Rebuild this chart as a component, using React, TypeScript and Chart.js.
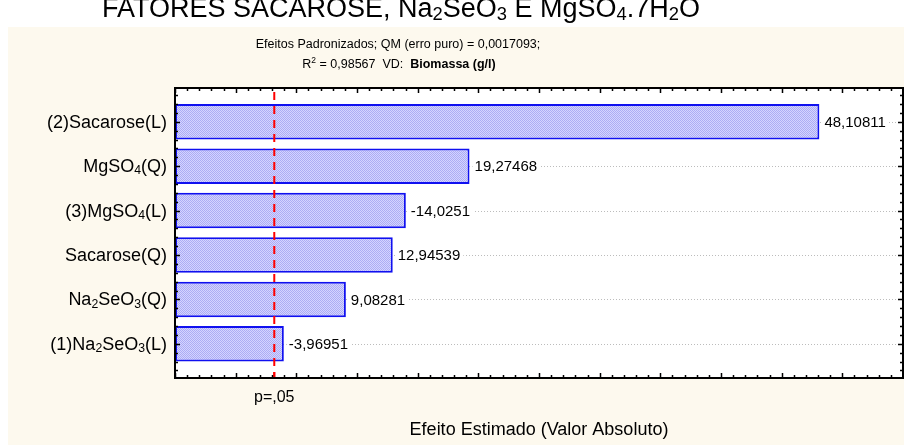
import React, { useEffect, useRef } from "react";
import { Chart, registerables } from "chart.js";

Chart.register(...registerables);

const FONT = "'Liberation Sans', Arial, Helvetica, sans-serif";

// ---- data ----
const categories = ["(2)Sacarose(L)", "MgSO₄(Q)", "(3)MgSO₄(L)", "Sacarose(Q)", "Na₂SeO₃(Q)", "(1)Na₂SeO₃(L)"];
const effects = [48.10811, 19.27468, -14.0251, 12.94539, 9.08281, -3.96951];
const effectLabels = effects.map((v) => String(v).replace(".", ","));
const pCritical = 3.182;
const pLabel = "p=,05";
const xMin = -5;
const xMax = 55;
const xMajorStep = 5;
const xMinorStep = 1;
const yMinorStep = 0.2;

const titleText = "FATORES SACAROSE, Na₂SeO₃ E MgSO₄.7H₂O";
const subtitle1 = "Efeitos Padronizados; QM (erro puro) = 0,0017093;";
const subtitle2 = "R² = 0,98567  VD:  ";
const subtitle2Bold = "Biomassa (g/l)";
const xTitle = "Efeito Estimado (Valor Absoluto)";

// ---- rich text helpers ----
const SUB = "₀₁₂₃₄₅₆₇₈₉";
const SUP = "⁰¹²³⁴⁵⁶⁷⁸⁹";
type Part = { text: string; size: number; weight: string; dy: number };

function splitRich(text: string, size: number, weight = "normal"): Part[] {
  const parts: Part[] = [];
  for (const ch of Array.from(text)) {
    const si = SUB.indexOf(ch);
    const pi = SUP.indexOf(ch);
    let p: Part;
    if (si >= 0) p = { text: String(si), size: size * 0.68, weight, dy: size * 0.12 };
    else if (pi >= 0) p = { text: String(pi), size: size * 0.68, weight, dy: -size * 0.4 };
    else p = { text: ch, size, weight, dy: 0 };
    const last = parts[parts.length - 1];
    if (last && last.size === p.size && last.dy === p.dy && last.weight === p.weight) last.text += p.text;
    else parts.push(p);
  }
  return parts;
}

function partsWidth(ctx: CanvasRenderingContext2D, parts: Part[]) {
  let w = 0;
  for (const p of parts) {
    ctx.font = `${p.weight} ${p.size}px ${FONT}`;
    w += ctx.measureText(p.text).width;
  }
  return w;
}

function drawParts(ctx: CanvasRenderingContext2D, parts: Part[], x: number, y: number, align: "left" | "center" | "right") {
  const w = partsWidth(ctx, parts);
  let cx = align === "left" ? x : align === "center" ? x - w / 2 : x - w;
  ctx.textBaseline = "alphabetic";
  ctx.textAlign = "left";
  for (const p of parts) {
    ctx.font = `${p.weight} ${p.size}px ${FONT}`;
    ctx.fillText(p.text, cx, y + p.dy);
    cx += ctx.measureText(p.text).width;
  }
  return w;
}

function makePattern(): CanvasPattern | string {
  const c = document.createElement("canvas");
  c.width = 2;
  c.height = 2;
  const g = c.getContext("2d");
  if (!g) return "#c4c4f8";
  g.fillStyle = "#d4d4ff";
  g.fillRect(0, 0, 2, 2);
  g.fillStyle = "#acacf4";
  g.fillRect(0, 0, 1, 1);
  g.fillRect(1, 1, 1, 1);
  const p = g.createPattern(c, "repeat");
  return p || "#c4c4f8";
}

const decor = {
  id: "decor",
  beforeDraw(chart: any) {
    const { ctx, width, height, chartArea: a } = chart;
    ctx.save();
    ctx.fillStyle = "#ffffff";
    ctx.fillRect(0, 0, width, height);
    ctx.fillStyle = "#fdf9ee";
    ctx.fillRect(8, 27, width - 8, height - 27);
    ctx.fillStyle = "#ffffff";
    ctx.fillRect(a.left, a.top, a.right - a.left, a.bottom - a.top);

    ctx.fillStyle = "#000";
    drawParts(ctx, splitRich(titleText, 27), 401, 17, "center");
    drawParts(ctx, splitRich(subtitle1, 12.5), 398, 48, "center");
    const p2 = splitRich(subtitle2, 12.5);
    const p2b = splitRich(subtitle2Bold, 12.5, "bold");
    const w = partsWidth(ctx, p2) + partsWidth(ctx, p2b);
    const x0 = 399 - w / 2;
    const w1 = drawParts(ctx, p2, x0, 68, "left");
    drawParts(ctx, p2b, x0 + w1, 68, "left");
    ctx.restore();
  },
  beforeDatasetsDraw(chart: any) {
    const { ctx, chartArea: a, scales } = chart;
    const y = scales.y;
    ctx.save();
    ctx.strokeStyle = "#bcbcbc";
    ctx.lineWidth = 1;
    ctx.setLineDash([1, 2]);
    categories.forEach((_, i) => {
      const py = Math.round(y.getPixelForValue(i)) + 0.5;
      ctx.beginPath();
      ctx.moveTo(a.left, py);
      ctx.lineTo(a.right, py);
      ctx.stroke();
    });
    ctx.restore();
  },
  afterDatasetsDraw(chart: any) {
    const { ctx, chartArea: a, scales } = chart;
    const x = scales.x;
    const y = scales.y;
    ctx.save();
    // value labels
    ctx.font = `15px ${FONT}`;
    ctx.textBaseline = "middle";
    ctx.textAlign = "left";
    effects.forEach((v, i) => {
      const px = x.getPixelForValue(Math.abs(v)) + 5;
      const py = y.getPixelForValue(i);
      const tw = ctx.measureText(effectLabels[i]).width;
      ctx.fillStyle = "#ffffff";
      ctx.fillRect(px - 2, py - 8, tw + 5, 16);
      ctx.fillStyle = "#000";
      ctx.fillText(effectLabels[i], px, py + 1);
    });
    // red dashed p line
    const rx = x.getPixelForValue(pCritical);
    ctx.strokeStyle = "#ff0000";
    ctx.lineWidth = 2;
    ctx.setLineDash([8, 6]);
    ctx.lineDashOffset = -4;
    ctx.beginPath();
    ctx.moveTo(rx, a.top);
    ctx.lineTo(rx, a.bottom);
    ctx.stroke();
    ctx.setLineDash([]);
    ctx.beginPath();
    ctx.moveTo(rx, a.bottom - 6);
    ctx.lineTo(rx, a.bottom);
    ctx.stroke();

    // ticks
    ctx.strokeStyle = "#000";
    ctx.lineWidth = 1.5;
    for (let v = xMin; v <= xMax + 1e-9; v += xMinorStep) {
      const px = Math.round(x.getPixelForValue(v)) + 0.5;
      const major = Math.abs(v / xMajorStep - Math.round(v / xMajorStep)) < 1e-9;
      const len = major ? 5 : 3;
      ctx.beginPath();
      ctx.moveTo(px, a.bottom);
      ctx.lineTo(px, a.bottom - len);
      ctx.moveTo(px, a.top);
      ctx.lineTo(px, a.top + len);
      ctx.stroke();
    }
    const yStart = Math.ceil(y.min / yMinorStep) * yMinorStep;
    for (let v = yStart; v <= y.max + 1e-9; v += yMinorStep) {
      const py = Math.round(y.getPixelForValue(v)) + 0.5;
      const major = Math.abs(v - Math.round(v)) < 1e-6;
      const len = major ? 5 : 3;
      ctx.beginPath();
      ctx.moveTo(a.left, py);
      ctx.lineTo(a.left + len, py);
      ctx.moveTo(a.right, py);
      ctx.lineTo(a.right - len, py);
      ctx.stroke();
    }
    // frame
    ctx.lineWidth = 2;
    ctx.strokeRect(a.left, a.top, a.right - a.left, a.bottom - a.top);

    // category labels
    ctx.fillStyle = "#000";
    categories.forEach((c, i) => {
      const py = y.getPixelForValue(i);
      drawParts(ctx, splitRich(c, 18), a.left - 8, py + 6, "right");
    });
    // p label
    ctx.font = `16px ${FONT}`;
    ctx.textAlign = "center";
    ctx.textBaseline = "middle";
    ctx.fillText(pLabel, rx, 398);
    ctx.restore();
  },
};

export default function App() {
  const ref = useRef<HTMLCanvasElement | null>(null);
  useEffect(() => {
    document.body.style.margin = "0";
    const canvas = ref.current;
    if (!canvas) return;
    const chart = new Chart(canvas, {
      type: "bar",
      data: {
        datasets: [
          {
            data: categories.map((_, i) => ({ y: i, x: [xMin, Math.abs(effects[i])] })) as any,
            backgroundColor: makePattern() as any,
            borderColor: "#1010f0",
            borderWidth: 2,
            borderSkipped: false,
            barPercentage: 0.8,
            categoryPercentage: 1,
          },
        ],
      },
      options: {
        indexAxis: "y",
        responsive: false,
        animation: false,
        events: [],
        layout: { padding: { left: 0, right: 1, top: 88, bottom: 0 } },
        plugins: { legend: { display: false }, tooltip: { enabled: false }, title: { display: false } },
        scales: {
          x: {
            type: "linear",
            position: "bottom",
            min: xMin,
            max: xMax,
            ticks: { display: false },
            grid: { display: false },
            border: { display: false },
            title: {
              display: true,
              text: xTitle,
              color: "#000",
              font: { family: FONT, size: 18 },
              padding: { top: 0, bottom: 4 },
            },
            afterFit: (s: any) => {
              s.height = 67;
            },
          },
          y: {
            type: "linear",
            reverse: true,
            offset: false,
            min: -0.76,
            max: 5.77,
            ticks: { display: false },
            grid: { display: false, offset: false },
            border: { display: false },
            afterBuildTicks: (s: any) => {
              s.ticks = categories.map((_, i) => ({ value: i }));
            },
            afterFit: (s: any) => {
              s.width = 175;
            },
          },
        },
      } as any,
      plugins: [decor],
    });
    return () => chart.destroy();
  }, []);
  return (
    <div style={{ width: 904, height: 445, position: "relative" }}>
      <canvas ref={ref} width={904} height={445} style={{ display: "block" }} />
    </div>
  );
}
